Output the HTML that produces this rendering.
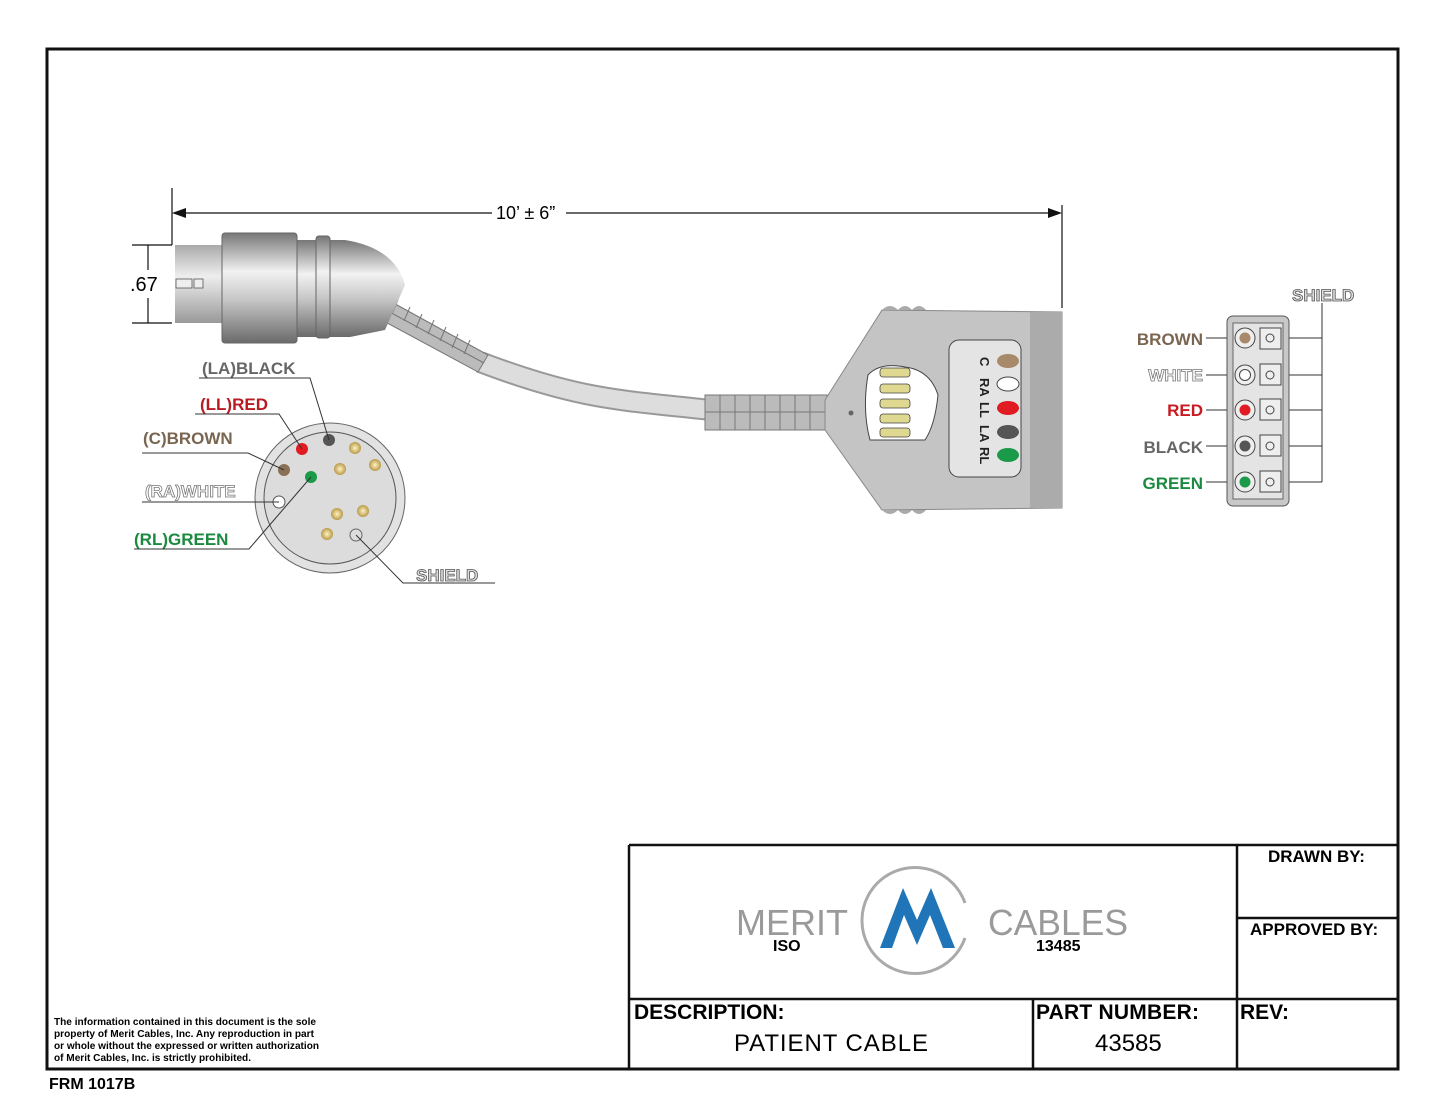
<!DOCTYPE html>
<html><head><style>
body{margin:0;background:#fff;}
svg{display:block;font-family:"Liberation Sans",Arial,sans-serif;}
</style></head><body>
<svg width="1445" height="1117" viewBox="0 0 1445 1117" xmlns="http://www.w3.org/2000/svg">
<defs>
<linearGradient id="cyl" x1="0" y1="0" x2="0" y2="1">
<stop offset="0" stop-color="#777"/><stop offset="0.35" stop-color="#f2f2f2"/><stop offset="0.6" stop-color="#c8c8c8"/><stop offset="1" stop-color="#6a6a6a"/></linearGradient>
<linearGradient id="pin" x1="0" y1="0" x2="0" y2="1">
<stop offset="0" stop-color="#aaa"/><stop offset="0.4" stop-color="#eee"/><stop offset="1" stop-color="#999"/></linearGradient>
<radialGradient id="gold"><stop offset="0" stop-color="#fff3c0"/><stop offset="1" stop-color="#b89a4a"/></radialGradient>
</defs>
<rect x="47" y="49" width="1351" height="1020" fill="none" stroke="#111" stroke-width="3"/>
<g stroke="#111" stroke-width="2.5" fill="none">
<path d="M629 845 H1398 M629 845 V1069 M1237 845 V1069 M1237 918 H1398 M629 999 H1398 M1033 999 V1069"/>
</g>
<text x="1268" y="862" font-size="17" font-weight="bold">DRAWN BY:</text>
<text x="1250" y="935" font-size="17" font-weight="bold">APPROVED BY:</text>
<text x="634" y="1019" font-size="21" font-weight="bold">DESCRIPTION:</text>
<text x="734" y="1051" font-size="24" textLength="194">PATIENT CABLE</text>
<text x="1036" y="1019" font-size="21" font-weight="bold" textLength="163">PART NUMBER:</text>
<text x="1095" y="1051" font-size="24">43585</text>
<text x="1240" y="1019" font-size="21" font-weight="bold">REV:</text>
<text x="736" y="935" font-size="36" fill="#9a9a9a" textLength="112" lengthAdjust="spacingAndGlyphs">MERIT</text>
<text x="988" y="935" font-size="36" fill="#9a9a9a" textLength="140" lengthAdjust="spacingAndGlyphs">CABLES</text>
<text x="773" y="951" font-size="16" font-weight="bold">ISO</text>
<text x="1036" y="951" font-size="16" font-weight="bold">13485</text>
<path d="M965 903 A53 53 0 1 0 965 938" fill="none" stroke="#aaa" stroke-width="3"/>
<path d="M880 948 L903 888 L917 920 L931 888 L955 948 L943 948 L930 915 L917 945 L904 915 L892 948 Z" fill="#1f75b8"/>
<g font-size="10.5" font-weight="bold"><text x="54" y="1025" textLength="262" lengthAdjust="spacingAndGlyphs">The information contained in this document is the sole</text><text x="54" y="1037" textLength="260" lengthAdjust="spacingAndGlyphs">property of Merit Cables, Inc. Any reproduction in part</text><text x="54" y="1049" textLength="265" lengthAdjust="spacingAndGlyphs">or whole without the expressed or written authorization</text><text x="54" y="1061" textLength="197" lengthAdjust="spacingAndGlyphs">of Merit Cables, Inc. is strictly prohibited.</text></g>
<text x="49" y="1089" font-size="16" font-weight="bold">FRM 1017B</text>
<g stroke="#111" stroke-width="1.2">
<line x1="172" y1="188" x2="172" y2="245"/><line x1="1062" y1="205" x2="1062" y2="308"/>
<line x1="180" y1="213" x2="492" y2="213"/><line x1="566" y1="213" x2="1054" y2="213"/>
<line x1="132" y1="245" x2="172" y2="245"/><line x1="132" y1="323" x2="172" y2="323"/>
<line x1="148" y1="245" x2="148" y2="270"/><line x1="148" y1="298" x2="148" y2="323"/>
</g>
<path d="M172 213 L186 208 L186 218Z M1062 213 L1048 208 L1048 218Z" fill="#111"/>
<text x="496" y="219" font-size="18">10’ ± 6”</text>
<text x="130" y="291" font-size="20">.67</text>
<path d="M480 362 C580 400 620 400 710 410" fill="none" stroke="#999" stroke-width="22"/>
<path d="M480 362 C580 400 620 400 710 410" fill="none" stroke="#ddd" stroke-width="18"/>
<path d="M388 300 L488 355 L478 372 L378 318 Z" fill="#bbb" stroke="#777"/>
<g stroke="#777" stroke-width="1"><path d="M398 300 L392 314 M410 307 L404 321 M422 314 L416 328 M434 320 L428 334 M446 327 L440 341 M458 334 L452 348 M470 340 L464 354 M384 309 L484 363"/></g>
<rect x="705" y="395" width="122" height="35" fill="#bbb" stroke="#777"/>
<g stroke="#777"><path d="M720 395V430M735 395V430M750 395V430M765 395V430M780 395V430M795 395V430M810 395V430M705 412H827"/></g>
<rect x="175" y="245" width="50" height="78" fill="url(#pin)"/>
<rect x="176" y="279" width="16" height="9" fill="#eee" stroke="#555" stroke-width="0.8"/><rect x="194" y="279" width="9" height="9" fill="#eee" stroke="#555" stroke-width="0.8"/>
<path d="M290 240 L345 240 Q395 248 405 285 L385 330 L350 337 L290 337 Z" fill="url(#cyl)"/>
<rect x="222" y="233" width="75" height="110" rx="3" fill="url(#cyl)" stroke="#666"/>
<rect x="316" y="236" width="14" height="102" rx="3" fill="url(#cyl)" stroke="#666"/>
<path d="M825 400 L882 310 L1062 312 L1062 508 L882 510 L825 430 Z" fill="#c4c4c4" stroke="#888"/>
<rect x="1030" y="312" width="32" height="196" fill="#ababab"/>
<path d="M882 310 Q890 302 898 310 Q905 302 912 310 Q919 302 926 310" fill="#aaa"/>
<path d="M882 510 Q890 518 898 510 Q905 518 912 510 Q919 518 926 510" fill="#aaa"/>
<circle cx="851" cy="413" r="2.5" fill="#666"/>
<path d="M868 375 Q880 362 905 367 Q930 370 938 395 Q935 425 925 440 L870 440 Q862 410 868 375Z" fill="#fff" stroke="#444"/>
<g fill="#dfd890" stroke="#444" stroke-width="0.8">
<rect x="880" y="368" width="30" height="9" rx="3"/><rect x="880" y="384" width="30" height="9" rx="3"/><rect x="880" y="399" width="30" height="9" rx="3"/><rect x="880" y="414" width="30" height="9" rx="3"/><rect x="880" y="428" width="30" height="9" rx="3"/></g>
<rect x="949" y="340" width="72" height="137" rx="10" fill="#e4e4e4" stroke="#444"/>
<ellipse cx="1008" cy="361" rx="11" ry="7" fill="#a8896a"/><ellipse cx="1008" cy="384" rx="11" ry="7" fill="#fff" stroke="#444"/><ellipse cx="1008" cy="408" rx="11" ry="7" fill="#e01b22"/><ellipse cx="1008" cy="432" rx="11" ry="7" fill="#555"/><ellipse cx="1008" cy="455" rx="11" ry="7" fill="#1b9a4a"/>
<g font-size="13" font-weight="bold" fill="#222">
<text transform="translate(980,357) rotate(90)">C</text><text transform="translate(980,378) rotate(90)">RA</text><text transform="translate(980,402) rotate(90)">LL</text><text transform="translate(980,425) rotate(90)">LA</text><text transform="translate(980,447) rotate(90)">RL</text></g>
<circle cx="330" cy="498" r="75" fill="#e2e2e2" stroke="#666"/>
<circle cx="330" cy="498" r="66" fill="#dcdcdc" stroke="#555"/>
<circle cx="302" cy="449" r="6" fill="#e01b22"/><circle cx="329" cy="440" r="6" fill="#555"/>
<circle cx="284" cy="470" r="6" fill="#8a7055"/><circle cx="311" cy="477" r="6" fill="#1b9a4a"/>
<circle cx="279" cy="502" r="6" fill="#fff" stroke="#555"/>
<circle cx="355" cy="448" r="6" fill="url(#gold)"/><circle cx="375" cy="465" r="6" fill="url(#gold)"/><circle cx="340" cy="469" r="6" fill="url(#gold)"/>
<circle cx="337" cy="514" r="6" fill="url(#gold)"/><circle cx="363" cy="511" r="6" fill="url(#gold)"/><circle cx="327" cy="534" r="6" fill="url(#gold)"/><circle cx="356" cy="535" r="6" fill="#ddd" stroke="#666"/>
<g stroke="#333" stroke-width="1" fill="none">
<path d="M199 378 H310 L329 440"/><path d="M195 414 H279 L302 449"/><path d="M142 453 H248 L284 470"/><path d="M142 502 H279"/><path d="M134 549 H249 L311 477"/><path d="M495 583 H403 L356 535"/><path d="M1206 338 H1245 M1206 375 H1245 M1206 410 H1245 M1206 446 H1245 M1206 482 H1245"/><path d="M1272 338 H1322 M1272 375 H1322 M1272 410 H1322 M1272 446 H1322 M1272 482 H1322 M1322 303 V482"/>
</g>
<g font-size="17" font-weight="bold">
<text x="202" y="374" fill="#666">(LA)BLACK</text>
<text x="200" y="410" fill="#b81c22">(LL)RED</text>
<text x="143" y="444" fill="#7a6550">(C)BROWN</text>
<text x="145" y="497" fill="#fff" stroke="#777" stroke-width="0.8">(RA)WHITE</text>
<text x="134" y="545" fill="#1b8a40">(RL)GREEN</text>
<text x="416" y="581" fill="#ddd" stroke="#555" stroke-width="0.8">SHIELD</text>
<text x="1292" y="301" fill="#ddd" stroke="#555" stroke-width="0.8">SHIELD</text>
<g text-anchor="end">
<text x="1203" y="345" fill="#7a6550">BROWN</text>
<text x="1203" y="381" fill="#fff" stroke="#777" stroke-width="0.8">WHITE</text>
<text x="1203" y="416" fill="#c81c22">RED</text>
<text x="1203" y="453" fill="#666">BLACK</text>
<text x="1203" y="489" fill="#1b8a40">GREEN</text>
</g>
</g>
<rect x="1227" y="316" width="62" height="190" rx="6" fill="#c8c8c8" stroke="#555"/>
<rect x="1233" y="323" width="50" height="176" fill="#e4e4e4" stroke="#666"/>
<g stroke="#444" fill="#eee">
<rect x="1260" y="328" width="21" height="21"/><rect x="1260" y="364" width="21" height="21"/><rect x="1260" y="399" width="21" height="21"/><rect x="1260" y="435" width="21" height="21"/><rect x="1260" y="471" width="21" height="21"/>
<circle cx="1270" cy="338" r="4"/><circle cx="1270" cy="375" r="4"/><circle cx="1270" cy="410" r="4"/><circle cx="1270" cy="446" r="4"/><circle cx="1270" cy="482" r="4"/>
<circle cx="1245" cy="338" r="10"/><circle cx="1245" cy="375" r="10"/><circle cx="1245" cy="410" r="10"/><circle cx="1245" cy="446" r="10"/><circle cx="1245" cy="482" r="10"/>
</g>
<circle cx="1245" cy="338" r="5.5" fill="#a8896a"/><circle cx="1245" cy="375" r="5.5" fill="#fff" stroke="#444"/><circle cx="1245" cy="410" r="5.5" fill="#e01b22"/><circle cx="1245" cy="446" r="5.5" fill="#555"/><circle cx="1245" cy="482" r="5.5" fill="#1b9a4a"/>
</svg>
</body></html>
